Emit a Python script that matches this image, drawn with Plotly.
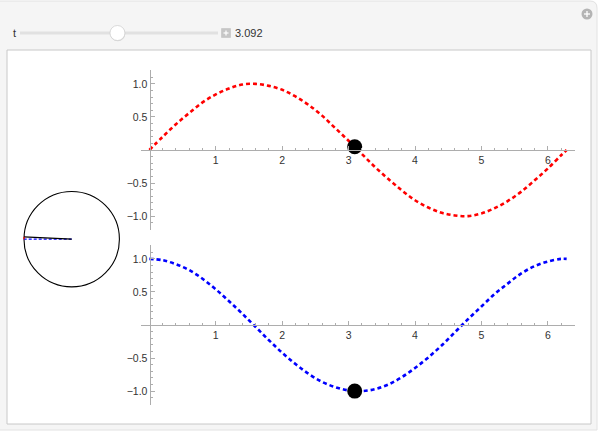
import plotly.graph_objects as go

W, H = 599, 432

# ---------------- data ----------------
t_value = 3.092
t_label = "3.092"
t_min, t_max = 0.0, 6.283

x_vals = [0.0, 0.2, 0.4, 0.6, 0.8, 1.0, 1.2, 1.4, 1.6, 1.8, 2.0, 2.2, 2.4, 2.6, 2.8, 3.0,
          3.2, 3.4, 3.6, 3.8, 4.0, 4.2, 4.4, 4.6, 4.8, 5.0, 5.2, 5.4, 5.6, 5.8, 6.0, 6.2, 6.283]
sin_vals = [0.00, 0.20, 0.39, 0.56, 0.72, 0.84, 0.93, 0.99, 1.00, 0.97, 0.91, 0.81, 0.68, 0.52,
            0.33, 0.14, -0.06, -0.26, -0.44, -0.61, -0.76, -0.87, -0.95, -0.99, -1.00, -0.96,
            -0.88, -0.77, -0.63, -0.46, -0.28, -0.08, 0.00]
cos_vals = [1.00, 0.98, 0.92, 0.83, 0.70, 0.54, 0.36, 0.17, -0.03, -0.23, -0.42, -0.59, -0.74,
            -0.86, -0.94, -0.99, -1.00, -0.97, -0.90, -0.79, -0.65, -0.49, -0.31, -0.11, 0.09,
            0.28, 0.47, 0.63, 0.78, 0.89, 0.96, 1.00, 1.00]

point_sin = 0.05
point_cos = -1.00
circle_radius = 1.0

x_ticks = [1, 2, 3, 4, 5, 6]
x_ticklabels = ["1", "2", "3", "4", "5", "6"]
y_ticks = [-1.0, -0.5, 0.5, 1.0]
y_ticklabels = ["\u22121.0", "\u22120.5", "0.5", "1.0"]
x_minor = [round(0.2 * i, 1) for i in range(1, 33) if (i % 5) != 0]
y_minor = [round(0.1 * i, 1) for i in range(-12, 13) if (i % 5) != 0]

# ---------------- helpers (layout pixel -> paper) ----------------
def px(x):
    return x / W

def py(y):
    return 1 - y / H

fig = go.Figure()

dash = "4px,3px"
fig.add_trace(go.Scatter(x=x_vals, y=sin_vals, mode="lines", xaxis="x", yaxis="y",
                         line=dict(color="#ff0000", width=2.6, dash=dash, shape="spline"),
                         hoverinfo="skip"))
fig.add_trace(go.Scatter(x=[t_value], y=[point_sin], mode="markers", xaxis="x", yaxis="y",
                         marker=dict(color="black", size=15), hoverinfo="skip"))
fig.add_trace(go.Scatter(x=x_vals, y=cos_vals, mode="lines", xaxis="x2", yaxis="y2",
                         line=dict(color="#0000ff", width=2.6, dash=dash, shape="spline"),
                         hoverinfo="skip"))
fig.add_trace(go.Scatter(x=[t_value], y=[point_cos], mode="markers", xaxis="x2", yaxis="y2",
                         marker=dict(color="black", size=15), hoverinfo="skip"))

# unit circle pieces
fig.add_trace(go.Scatter(x=[0, point_cos], y=[0, 0], mode="lines", xaxis="x3", yaxis="y3",
                         line=dict(color="#0000ff", width=1.2, dash="3px,2px"), hoverinfo="skip"))
fig.add_trace(go.Scatter(x=[0, point_cos], y=[0, point_sin], mode="lines", xaxis="x3", yaxis="y3",
                         line=dict(color="black", width=1.2), hoverinfo="skip"))
fig.add_trace(go.Scatter(x=[point_cos, point_cos], y=[0, point_sin], mode="lines", xaxis="x3", yaxis="y3",
                         line=dict(color="#ff0000", width=1.2), hoverinfo="skip"))

axis_col = "#adadad"
font_col = "#333333"
tick_font = dict(size=10.5, color=font_col, family="Liberation Sans, Arial")
common_x = dict(range=[-0.126, 6.409], showgrid=False, zeroline=False, showline=True,
                linecolor=axis_col, linewidth=1, ticks="inside", ticklen=4, tickwidth=1,
                tickcolor=axis_col, tickmode="array", tickvals=x_ticks, ticktext=x_ticklabels,
                tickfont=tick_font,
                minor=dict(tickmode="array", tickvals=x_minor, ticklen=2.5, tickcolor=axis_col,
                           ticks="inside", showgrid=False),
                anchor="free", fixedrange=True)
common_y = dict(range=[-1.21, 1.21], showgrid=False, zeroline=False, showline=True,
                linecolor=axis_col, linewidth=1, ticks="inside", ticklen=4, tickwidth=1,
                tickcolor=axis_col, tickmode="array", tickvals=y_ticks, ticktext=y_ticklabels,
                tickfont=tick_font,
                minor=dict(tickmode="array", tickvals=y_minor, ticklen=2.5, tickcolor=axis_col,
                           ticks="inside", showgrid=False),
                anchor="free", position=px(149.5), fixedrange=True)

x_dom = [px(141), px(575)]
fig.update_layout(
    xaxis=dict(common_x, domain=x_dom, position=py(150)),
    yaxis=dict(common_y, domain=[py(230), py(70)]),
    xaxis2=dict(common_x, domain=x_dom, position=py(325)),
    yaxis2=dict(common_y, domain=[py(405), py(245)]),
    xaxis3=dict(range=[-1.05, 1.05], domain=[px(21.6), px(121.8)], visible=False, fixedrange=True),
    yaxis3=dict(range=[-1.05, 1.05], domain=[py(289.3), py(189.1)], visible=False, fixedrange=True),
)

shapes = []
# outer manipulate panel
shapes.append(dict(type="path", xref="paper", yref="paper",
                   path=f"M {px(-2)},{py(1)} L {px(590)},{py(1)} Q {px(597)},{py(1)} {px(597)},{py(8)} "
                        f"L {px(597)},{py(430)} L {px(-2)},{py(430)} Z",
                   fillcolor="#f5f5f5", line=dict(color="#e2e2e2", width=1), layer="below"))
# inner white pane
shapes.append(dict(type="rect", xref="paper", yref="paper", x0=px(7), x1=px(591), y0=py(424), y1=py(50),
                   fillcolor="white", line=dict(color="#c8c8c8", width=1), layer="below"))
# slider track
track_x0, track_x1, track_y = 20, 218, 33
shapes.append(dict(type="line", xref="paper", yref="paper", x0=px(track_x0), x1=px(track_x1),
                   y0=py(track_y), y1=py(track_y), line=dict(color="#e1e1e1", width=3), layer="below"))
knob_x = track_x0 + (track_x1 - track_x0) * (t_value - t_min) / (t_max - t_min)
kr = 7.5
shapes.append(dict(type="circle", xref="paper", yref="paper", x0=px(knob_x - kr + 0.3), x1=px(knob_x + kr + 0.3),
                   y0=py(track_y + kr + 0.8), y1=py(track_y - kr + 0.8),
                   fillcolor="#d6d6d6", line=dict(width=0), layer="below"))
shapes.append(dict(type="circle", xref="paper", yref="paper", x0=px(knob_x - kr), x1=px(knob_x + kr),
                   y0=py(track_y + kr), y1=py(track_y - kr),
                   fillcolor="white", line=dict(color="#d0d0d0", width=0.8), layer="below"))
# slider plus box
bx, bs = 226, 4.5
shapes.append(dict(type="rect", xref="paper", yref="paper", x0=px(bx - bs), x1=px(bx + bs),
                   y0=py(track_y + bs), y1=py(track_y - bs), fillcolor="#c6c6c6",
                   line=dict(color="#bdbdbd", width=0.5), layer="below"))
shapes.append(dict(type="line", xref="paper", yref="paper", x0=px(bx - 2.5), x1=px(bx + 2.5),
                   y0=py(track_y), y1=py(track_y), line=dict(color="white", width=1.2), layer="below"))
shapes.append(dict(type="line", xref="paper", yref="paper", x0=px(bx), x1=px(bx),
                   y0=py(track_y - 2.5), y1=py(track_y + 2.5), line=dict(color="white", width=1.2), layer="below"))
# top-right plus circle icon
cx, cy, cr = 587, 14, 5.5
shapes.append(dict(type="circle", xref="paper", yref="paper", x0=px(cx - cr), x1=px(cx + cr),
                   y0=py(cy + cr), y1=py(cy - cr), fillcolor="#b4b4b4", line=dict(width=0), layer="below"))
shapes.append(dict(type="line", xref="paper", yref="paper", x0=px(cx - 3), x1=px(cx + 3),
                   y0=py(cy), y1=py(cy), line=dict(color="white", width=1.3), layer="below"))
shapes.append(dict(type="line", xref="paper", yref="paper", x0=px(cx), x1=px(cx),
                   y0=py(cy - 3), y1=py(cy + 3), line=dict(color="white", width=1.3), layer="below"))
# unit circle
shapes.append(dict(type="circle", xref="x3", yref="y3", x0=-circle_radius, x1=circle_radius,
                   y0=-circle_radius, y1=circle_radius, line=dict(color="black", width=1.1), layer="below"))

annotations = [
    dict(text="t", x=px(11), y=py(track_y), xref="paper", yref="paper", xanchor="left", yanchor="middle",
         showarrow=False, font=dict(size=11, color="#333333", family="Liberation Sans, Arial")),
    dict(text=t_label, x=px(233), y=py(track_y), xref="paper", yref="paper", xanchor="left", yanchor="middle",
         showarrow=False, font=dict(size=11, color="#333333", family="Liberation Sans, Arial")),
]

fig.update_layout(
    width=W, height=H, margin=dict(l=0, r=0, t=0, b=0),
    paper_bgcolor="white", plot_bgcolor="rgba(0,0,0,0)",
    showlegend=False, shapes=shapes, annotations=annotations,
)

fig.write_html("out.html", config={"displayModeBar": False},
               post_script="document.body.style.margin='0';document.body.style.padding='0';"
                           "document.documentElement.style.overflow='hidden';")
